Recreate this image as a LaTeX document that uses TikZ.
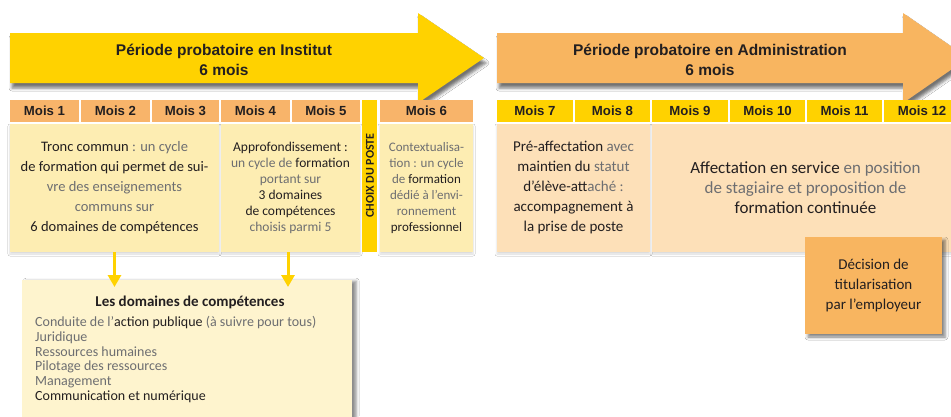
\documentclass[tikz,border=0pt]{standalone}
\usepackage{fontspec}
\setmainfont{Carlito}
\newfontfamily\hdr{Liberation Sans}
\usetikzlibrary{shadows.blur,arrows.meta,calc}
\definecolor{yel}{HTML}{FFD200}
\definecolor{orarrow}{HTML}{F8B560}
\definecolor{hdror}{HTML}{F8B46A}
\definecolor{lyel}{HTML}{FDEDB2}
\definecolor{peach}{HTML}{FDE0B8}
\definecolor{domfill}{HTML}{FEF4CE}
\definecolor{dk}{HTML}{231F20}
\definecolor{gy}{HTML}{6D6E71}
\tikzset{
  cellbase/.style={inner sep=0pt, text=dk, font=\hdr\bfseries\fontsize{13.2}{15}\selectfont, minimum height=22pt},
  cellor/.style={cellbase, fill=hdror},
  cellye/.style={cellbase, fill=yel},
  contbox/.style={inner sep=0pt, minimum height=128pt, blur shadow={shadow xshift=0pt, shadow yshift=-2pt, shadow blur radius=2pt, shadow opacity=15}},
  txt/.style={align=center, text=gy, inner sep=0pt},
  arrowshape/.style={blur shadow={shadow xshift=2pt, shadow yshift=-5pt, shadow blur radius=3pt, shadow opacity=55}},
  downarrow/.style={draw=yel, line width=3pt, -{Triangle[width=13pt,length=12pt,fill=yel]}},
  titletxt/.style={align=center, text=dk, font=\hdr\bfseries\fontsize{15.5}{19.5}\selectfont, inner sep=0pt},
}
\begin{document}
\begin{tikzpicture}[x=1pt,y=-1pt]
\useasboundingbox (0,0) rectangle (951,416);
\fill[white] (0,0) rectangle (951,416);

% big arrows
\fill[yel, arrowshape] (10,33) -- (418,33) -- (418,13) -- (484,58) -- (418,103) -- (418,83) -- (10,83) -- cycle;
\fill[orarrow, arrowshape] (497,33) -- (903,33) -- (903,13) -- (968,58) -- (903,103) -- (903,83) -- (497,83) -- cycle;
\node[titletxt] (t1) at (224,60) {Période probatoire en Institut\\6 mois};
\node[titletxt] (t2) at (710,60) {Période probatoire en Administration\\6 mois};

% month cells left
\node[cellor, minimum width=69pt] (m1) at (44.5,111) {Mois 1};
\node[cellor, minimum width=69pt] (m2) at (115.5,111) {Mois 2};
\node[cellor, minimum width=67pt] (m3) at (185.5,111) {Mois 3};
\node[cellor, minimum width=69pt] (m4) at (255.5,111) {Mois 4};
\node[cellor, minimum width=68pt] (m5) at (326,111) {Mois 5};
\node[cellor, minimum width=93pt] (m6) at (426.5,111) {Mois 6};

% content boxes left
\node[contbox, fill=lyel, minimum width=209pt] (b1) at (114.5,188) {};
\node[contbox, fill=lyel, minimum width=139pt] (b2) at (290.5,188) {};
\node[contbox, fill=lyel, minimum width=93pt] (b3) at (426.5,188) {};
\node[fill=yel, inner sep=0pt, minimum width=15pt, minimum height=152pt] (strip) at (369.5,176) {};
\node[rotate=90, inner sep=0pt, text=dk, font=\bfseries\fontsize{12}{13}\selectfont] (choix) at (370,175.5) {CHOIX DU POSTE};

\node[txt, font=\fontsize{14.5}{20}\selectfont] (tx1) at (b1.center)
  {{\color{dk}Tronc commun} : un cycle\\
   {\color{dk}de formation qui permet de sui-}\\
   vre des enseignements\\
   communs sur\\
   {\color{dk}6 domaines de compétences}};
\node[txt, font=\fontsize{13.5}{16}\selectfont] (tx2) at (b2.center)
  {{\color{dk}Approfondissement :}\\
   un cycle de {\color{dk}formation}\\
   portant sur\\
   {\color{dk}3 domaines}\\
   {\color{dk}de compétences}\\
   choisis parmi 5};
\node[txt, font=\fontsize{13}{16}\selectfont] (tx3) at (b3.center)
  {Contextualisa-\\
   tion : un cycle\\
   de {\color{dk}formation}\\
   dédié à l’envi-\\
   ronnement\\
   {\color{dk}professionnel}};

% month cells right
\node[cellye, minimum width=76pt] (m7) at (535,111) {Mois 7};
\node[cellye, minimum width=75pt] (m8) at (612.5,111) {Mois 8};
\node[cellye, minimum width=76pt] (m9) at (690,111) {Mois 9};
\node[cellye, minimum width=75pt] (m10) at (767.5,111) {Mois 10};
\node[cellye, minimum width=75pt] (m11) at (844.5,111) {Mois 11};
\node[cellye, minimum width=76pt] (m12) at (922,111) {Mois 12};

% content boxes right
\node[contbox, fill=peach, minimum width=153pt] (b7) at (573.5,188) {};
\node[contbox, fill=peach, minimum width=308pt] (b9) at (806,188) {};
\node[txt, font=\fontsize{15}{20}\selectfont] (tx7) at (b7.center)
  {{\color{dk}Pré-affectation} avec\\
   {\color{dk}maintien du} statut\\
   {\color{dk}d’élève-att}aché :\\
   {\color{dk}accompagnement à}\\
   {\color{dk}la prise de poste}};
\node[txt, font=\fontsize{17}{20}\selectfont] (tx9) at (805.5,187.5)
  {{\color{dk}Affectation en service} en position\\
   de stagiaire et proposition de\\
   {\color{dk}formation continuée}};

% decision box
\node[fill=orarrow, inner sep=0pt, minimum width=137pt, minimum height=97pt, text=dk, align=center,
      font=\fontsize{15}{20}\selectfont,
      blur shadow={shadow xshift=3pt, shadow yshift=-3pt, shadow blur radius=3pt, shadow opacity=50}] (dec) at (873.5,285.5)
  {Décision de\\titularisation\\par l’employeur};

% domaines box
\node[fill=domfill, inner sep=0pt, minimum width=330pt, minimum height=150pt, anchor=north west,
      blur shadow={shadow xshift=4pt, shadow yshift=-1pt, shadow blur radius=3pt, shadow opacity=45}] (dom) at (22,280) {};
\node[inner sep=0pt, text=dk, font=\bfseries\fontsize{15}{18}\selectfont] (domt) at (190,302) {Les domaines de compétences};
\node[inner sep=0pt, anchor=west, align=left, text=gy, font=\fontsize{14}{14.7}\selectfont] (doml) at (35,359.5)
  {Conduite de l’{\color{dk}action publique} (à suivre pour tous)\\
   Juridique\\
   Ressources humaines\\
   Pilotage des ressources\\
   Management\\
   {\color{dk}Communication et numérique}};

% down arrows
\draw[downarrow] (b1.south) -- ($(b1.south |- dom.north)+(0,7)$);
\draw[downarrow] ([xshift=-2.5pt]b2.south) -- ($([xshift=-2.5pt]b2.south |- dom.north)+(0,7)$);
\end{tikzpicture}
\end{document}
